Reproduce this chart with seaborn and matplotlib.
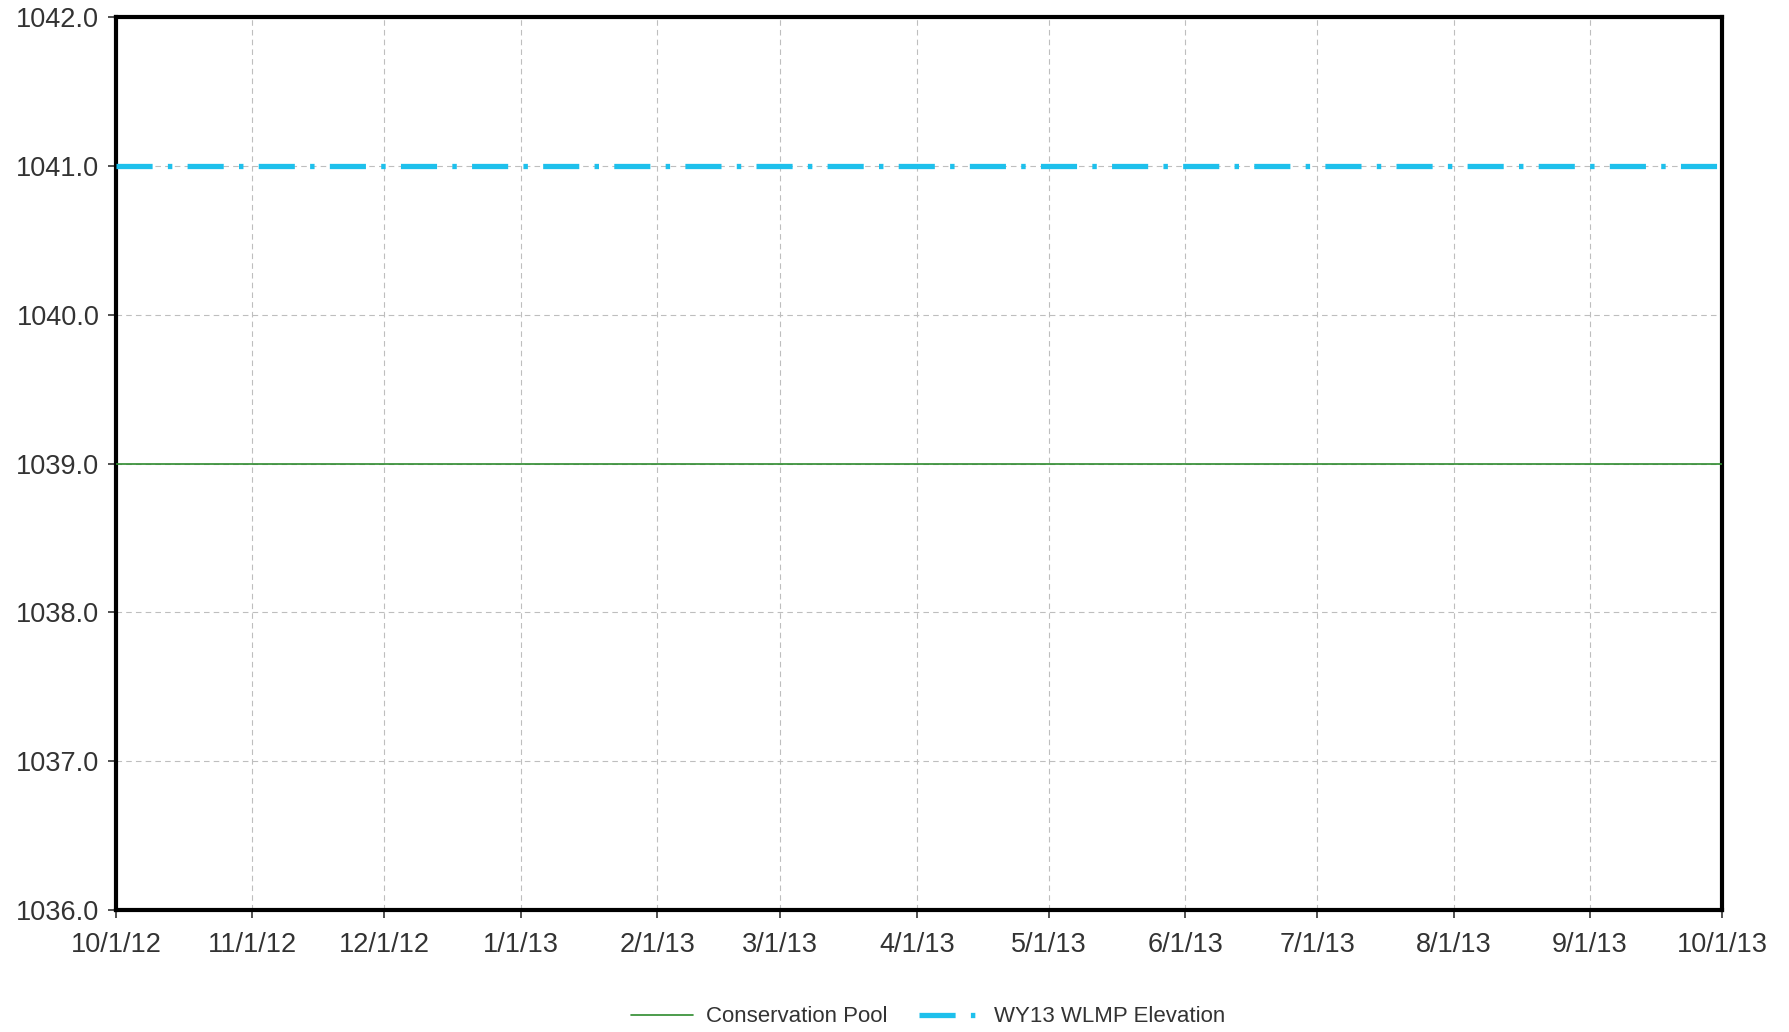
import matplotlib
matplotlib.use("Agg")
import matplotlib.pyplot as plt
import matplotlib.dates as mdates
import seaborn as sns
import pandas as pd

# Data
dates = ["2012-10-01", "2013-10-01"]
conservation_pool = [1039.0, 1039.0]
wlmp_elevation = [1041.0, 1041.0]
month_ticks = ["2012-10-01", "2012-11-01", "2012-12-01", "2013-01-01", "2013-02-01",
               "2013-03-01", "2013-04-01", "2013-05-01", "2013-06-01", "2013-07-01",
               "2013-08-01", "2013-09-01", "2013-10-01"]
y_ticks = [1036.0, 1037.0, 1038.0, 1039.0, 1040.0, 1041.0, 1042.0]

sns.set_style("white")
plt.rcParams['font.family'] = ['Liberation Sans', 'DejaVu Sans']
plt.rcParams['lines.scale_dashes'] = False

df = pd.DataFrame({
    "date": pd.to_datetime(dates * 2),
    "value": conservation_pool + wlmp_elevation,
    "series": ["Conservation Pool"] * len(dates) + ["WY13 WLMP Elevation"] * len(dates),
})

fig = plt.figure(figsize=(17.89, 10.32), dpi=100)
ax = fig.add_axes([116/1789, 1 - 910/1032, (1722 - 116)/1789, (910 - 17)/1032])

sub1 = df[df.series == "Conservation Pool"]
sub2 = df[df.series == "WY13 WLMP Elevation"]
sns.lineplot(data=sub1, x="date", y="value", ax=ax, color="#2E8B2E", linewidth=1.2,
             label="Conservation Pool", zorder=3)
sns.lineplot(data=sub2, x="date", y="value", ax=ax, color="#1EC0EC", linewidth=3.8,
             dashes=False, label="WY13 WLMP Elevation", zorder=3)
ax.lines[1].set_dashes([26, 11, 3.2, 11])
ax.lines[1].set_solid_capstyle("butt")
ax.lines[1].set_dash_capstyle("butt")

ax.set_xlim(pd.Timestamp(month_ticks[0]), pd.Timestamp(month_ticks[-1]))
ax.set_ylim(y_ticks[0], y_ticks[-1])
ax.set_xticks(pd.to_datetime(month_ticks))
ax.xaxis.set_major_formatter(plt.FuncFormatter(
    lambda v, p: (lambda d: f"{d.month}/{d.day}/{d.year % 100}")(mdates.num2date(v))))
ax.set_yticks(y_ticks)
ax.yaxis.set_major_formatter(plt.FuncFormatter(lambda v, p: f"{v:.1f}"))
ax.set_xlabel("")
ax.set_ylabel("")

ax.grid(True, which="major", color="#BEBEBE", linestyle=(0, (4, 3)), linewidth=0.8)
ax.set_axisbelow(True)
for s in ax.spines.values():
    s.set_linewidth(3.0)
    s.set_color("black")
ax.tick_params(axis="both", which="major", direction="out", length=6, width=1.2,
               color="#333333", labelsize=19.5, labelcolor="#333333", pad=6, left=True, bottom=True)
ax.tick_params(axis="x", pad=9.5)

ax.get_legend().remove()
handles, labels = ax.get_legend_handles_labels()
leg = fig.legend(handles, labels, loc="center", bbox_to_anchor=(928/1789, 1 - 1017/1032),
                 ncol=2, frameon=False, fontsize=16, handlelength=2.8, columnspacing=1.4,
                 handletextpad=0.6)
for t in leg.get_texts():
    t.set_color("#333333")

fig.savefig("out.png", dpi=100, facecolor="white")
